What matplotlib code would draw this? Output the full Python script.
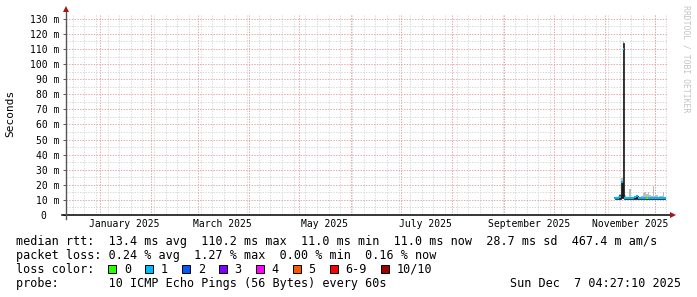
import matplotlib
matplotlib.use('Agg')
import matplotlib.pyplot as plt
import matplotlib.dates as mdates
from matplotlib.patches import Rectangle
import pandas as pd

plt.rcParams['font.family'] = 'DejaVu Sans Mono'

W, H = 697, 297

# visible window of the yearly graph
view_start = pd.Timestamp('2024-12-11 17:00')
view_end = pd.Timestamp('2025-12-08 19:00')

# smokeping samples (only the last month has data)
sample_days = pd.date_range('2025-11-07', '2025-12-07', freq='D')
median_ms = [11.2, 11.0, 11.4, 11.6, 22.0, 110.2, 11.5, 11.0, 11.2, 11.0, 11.3,
             11.0, 11.6, 12.4, 11.2, 11.0, 11.3, 11.0, 11.2, 11.0, 11.3, 11.0,
             11.4, 11.2, 11.0, 11.3, 11.0, 11.2, 11.0, 11.2, 11.0]
smoke_lo_ms = [10.6, 10.6, 10.7, 10.8, 11.0, 11.0, 10.7, 10.6, 10.6, 10.6, 10.6,
               10.6, 10.7, 10.8, 10.6, 10.6, 10.6, 10.6, 10.6, 10.6, 10.6, 10.6,
               10.6, 10.6, 10.6, 10.6, 10.6, 10.6, 10.6, 10.6, 10.6]
smoke_hi_ms = [11.8, 11.6, 12.4, 14.0, 24.5, 115.5, 13.0, 12.0, 12.0, 17.0, 12.2,
               11.8, 12.6, 13.2, 12.3, 12.0, 12.6, 14.8, 15.0, 14.2, 15.2, 13.0,
               12.8, 19.0, 12.5, 13.0, 12.2, 12.8, 12.4, 15.0, 12.0]
core_hi_ms = [11.2, 11.0, 11.4, 13.4, 22.0, 114.0, 11.5, 11.0, 11.2, 11.0, 11.3,
              11.0, 11.6, 12.4, 11.2, 11.0, 11.3, 11.0, 11.2, 11.0, 11.3, 11.0,
              11.4, 11.2, 11.0, 11.3, 11.0, 11.2, 11.0, 11.2, 11.0]
loss_level = [1, 1, 1, 1, 1, 1, 1, 1, 1, 1, 1, 1, 1, 1, 1, 1, 1, 1, 1, 0, 1, 1,
              1, 1, 1, 1, 1, 1, 1, 1, 1]

y_ticks = list(range(0, 131, 10))
y_labels = ['0  '] + ['%d m' % v for v in y_ticks[1:]]
month_labels = ['January 2025', 'March 2025', 'May 2025', 'July 2025',
                'September 2025', 'November 2025']
month_label_days = pd.to_datetime(['2025-01-16', '2025-03-16', '2025-05-16',
                                   '2025-07-16', '2025-09-16', '2025-11-16'])

loss_names = ['0', '1', '2', '3', '4', '5', '6-9', '10/10']
loss_colors = ['#26ff00', '#00b8ff', '#0059ff', '#7e00ff', '#ff00ff',
               '#ff5500', '#ff0000', '#a10000']

rtt_line = 'median rtt:  13.4 ms avg  110.2 ms max  11.0 ms min  11.0 ms now  28.7 ms sd  467.4 m am/s'
loss_line = 'packet loss: 0.24 % avg  1.27 % max  0.00 % min  0.16 % now'
probe_line = 'probe:       10 ICMP Echo Pings (56 Bytes) every 60s'
stamp = 'Sun Dec  7 04:27:10 2025'


def fx(x):
    return x / W


def fy(y):
    return 1 - y / H


fig = plt.figure(figsize=(W / 100, H / 100), dpi=100)
fig.patch.set_facecolor('white')
ax = fig.add_axes([fx(66), fy(215), (668 - 66) / W, (215 - 14) / H])
for s in ax.spines.values():
    s.set_visible(False)

x0, x1 = mdates.date2num(view_start), mdates.date2num(view_end)
ax.set_xlim(x0, x1)
ax.set_ylim(0, 133.2)

# grid
dot = (0, (1.4, 1.4))
for d in pd.date_range(view_start, view_end, freq='W-SUN'):
    ax.axvline(mdates.date2num(d), color='#d8d8d8', lw=0.7, ls=dot, zorder=0)
for v in range(5, 131, 10):
    ax.axhline(v, color='#d8d8d8', lw=0.7, ls=dot, zorder=0)
for d in pd.date_range('2025-01-01', view_end, freq='MS'):
    ax.axvline(mdates.date2num(d), color='#e6a6a6', lw=0.7, ls=dot, zorder=1)
for v in range(10, 131, 10):
    ax.axhline(v, color='#e6a6a6', lw=0.7, ls=dot, zorder=1)

# smoke + median
xs = mdates.date2num(sample_days)
ax.fill_between(xs, smoke_lo_ms, smoke_hi_ms, step='mid', color='#bdbdbd', lw=0, zorder=2)
ax.fill_between(xs, smoke_lo_ms, core_hi_ms, step='mid', facecolor='#1a1a1a',
                edgecolor='#1a1a1a', lw=0.5, zorder=3)
ax.hlines(median_ms, xs - 0.5, xs + 0.5, colors=[loss_colors[l] for l in loss_level],
          lw=1.5, zorder=4)

# axes lines and arrows
ax.plot([-4 / 602, 1 + 3 / 602], [0, 0], color='black', lw=1.1,
        transform=ax.transAxes, clip_on=False, zorder=5)
ax.plot([0, 0], [-4 / 201, 1 + 3 / 201], color='#555555', lw=1.0,
        transform=ax.transAxes, clip_on=False, zorder=5)
ax.plot([1 + 5 / 602], [0], marker='>', ms=4, color='#a01818', mew=0,
        transform=ax.transAxes, clip_on=False, zorder=6)
ax.plot([0], [1 + 5 / 201], marker='^', ms=4, color='#a01818', mew=0,
        transform=ax.transAxes, clip_on=False, zorder=6)

ax.set_yticks(y_ticks, y_labels)
ax.tick_params(axis='y', length=2, width=0.7, color='#555555', pad=3, labelsize=7)
ax.set_xticks([])
ax.set_xticks(mdates.date2num(month_label_days), month_labels, minor=True)
ax.tick_params(axis='x', which='minor', length=0, pad=3, labelsize=7)

fig.text(fx(10), fy(113), 'Seconds', rotation=90, ha='center', va='center', fontsize=8)
fig.text(fx(686), fy(59), 'RRDTOOL / TOBI OETIKER', rotation=270, ha='center',
         va='center', fontsize=5.9, color='#c4c4c4')

# legend
fs = 8.5
cw = 0.602 * fs * 100 / 72
fig.text(fx(16), fy(245), rtt_line, fontsize=fs, va='baseline')
fig.text(fx(16), fy(259), loss_line, fontsize=fs, va='baseline')
fig.text(fx(16), fy(273), 'loss color:', fontsize=fs, va='baseline')
bx = 16 + 13 * cw
for name, col in zip(loss_names, loss_colors):
    fig.add_artist(Rectangle((fx(bx), fy(273)), 8 / W, 8 / H, transform=fig.transFigure,
                             facecolor=col, edgecolor='black', lw=0.7))
    lx = bx + 15.5
    fig.text(fx(lx), fy(273), name, fontsize=fs, va='baseline')
    bx = lx + len(name) * cw + 14.3
fig.text(fx(16), fy(287), probe_line, fontsize=fs, va='baseline')
fig.text(fx(681), fy(287), stamp, fontsize=fs, va='baseline', ha='right')

fig.savefig('out.png', dpi=100, facecolor='white')
